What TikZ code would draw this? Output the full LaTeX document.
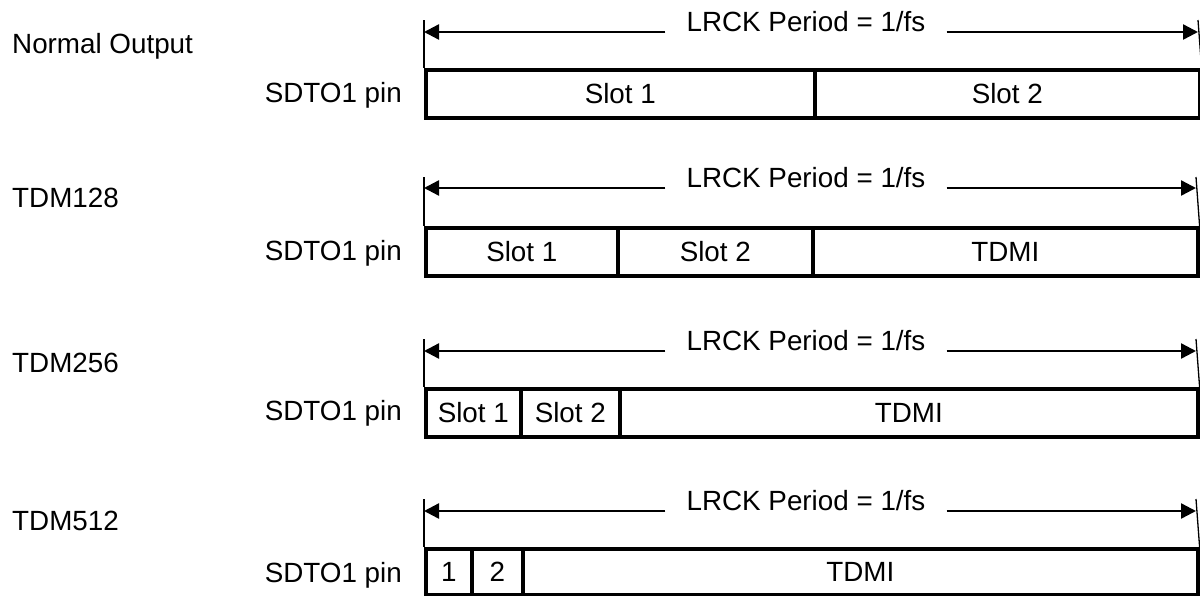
\documentclass[tikz,border=0pt]{standalone}
\usepackage{fontspec}
\setmainfont{Liberation Sans}
\usetikzlibrary{arrows.meta}
\begin{document}
\begin{tikzpicture}[x=1pt,y=-1pt,
  every node/.style={font=\fontsize{27.8}{33}\selectfont, inner sep=0pt},
  cell/.style={draw, line width=3.6pt, rectangle, anchor=north west, minimum height=48pt},
  period/.style={anchor=base, inner xsep=21pt},
  modelabel/.style={anchor=base west},
  pinlabel/.style={anchor=base east},
  arr/.style={line width=2.4pt, -{Triangle[length=15pt,width=15pt]}},
  tick/.style={line width=1.3pt}
]
\useasboundingbox (0,0) rectangle (1200,595);

% ---------- Normal Output ----------
\node[modelabel] (m1) at (12,53) {Normal Output};
\node[pinlabel] (s1) at (402,102) {SDTO1 pin};
\node[cell, minimum width=389pt] (a1) at (424,68) {Slot 1};
\node[cell, minimum width=385pt] (a2) at (813,68) {Slot 2};
\coordinate (l1) at (424,32);
\coordinate (r1) at (1198,32);
\coordinate (lt1) at (424,20);
\coordinate (rt1) at (1198,20);
\draw[tick] (a1.north west) -- (lt1);
\draw[tick] (a2.north east) -- (rt1);
\node[period] (p1) at (806,31) {LRCK Period = 1/fs};
\draw[arr] (p1.west |- l1) -- (l1);
\draw[arr] (p1.east |- r1) -- (r1);

% ---------- TDM128 ----------
\node[modelabel] (m2) at (12,207) {TDM128};
\node[pinlabel] (s2) at (402,260) {SDTO1 pin};
\node[cell, minimum width=192pt] (b1) at (424,226) {Slot 1};
\node[cell, minimum width=195pt] (b2) at (616,226) {Slot 2};
\node[cell, minimum width=385pt] (b3) at (811,226) {TDMI};
\coordinate (l2) at (424,188);
\coordinate (r2) at (1196,188);
\coordinate (lt2) at (424,177);
\coordinate (rt2) at (1196,177);
\draw[tick] (b1.north west) -- (lt2);
\draw[tick] (b3.north east) -- (rt2);
\node[period] (p2) at (806,187) {LRCK Period = 1/fs};
\draw[arr] (p2.west |- l2) -- (l2);
\draw[arr] (p2.east |- r2) -- (r2);

% ---------- TDM256 ----------
\node[modelabel] (m3) at (12,372) {TDM256};
\node[pinlabel] (s3) at (402,420) {SDTO1 pin};
\node[cell, minimum width=95pt] (c1) at (424,387) {Slot 1};
\node[cell, minimum width=99pt] (c2) at (519,387) {Slot 2};
\node[cell, minimum width=578pt] (c3) at (618,387) {TDMI};
\coordinate (l3) at (424,351);
\coordinate (r3) at (1196,351);
\coordinate (lt3) at (424,339);
\coordinate (rt3) at (1196,339);
\draw[tick] (c1.north west) -- (lt3);
\draw[tick] (c3.north east) -- (rt3);
\node[period] (p3) at (806,350) {LRCK Period = 1/fs};
\draw[arr] (p3.west |- l3) -- (l3);
\draw[arr] (p3.east |- r3) -- (r3);

% ---------- TDM512 ----------
\node[modelabel] (m4) at (12,530) {TDM512};
\node[pinlabel] (s4) at (402,582) {SDTO1 pin};
\node[cell, minimum width=46pt, minimum height=46pt] (d1) at (424,547) {1};
\node[cell, minimum width=51pt, minimum height=46pt] (d2) at (470,547) {2};
\node[cell, minimum width=675pt, minimum height=46pt] (d3) at (521,547) {TDMI};
\coordinate (l4) at (424,511);
\coordinate (r4) at (1196,511);
\coordinate (lt4) at (424,499);
\coordinate (rt4) at (1196,499);
\draw[tick] (d1.north west) -- (lt4);
\draw[tick] (d3.north east) -- (rt4);
\node[period] (p4) at (806,510) {LRCK Period = 1/fs};
\draw[arr] (p4.west |- l4) -- (l4);
\draw[arr] (p4.east |- r4) -- (r4);
\end{tikzpicture}
\end{document}
